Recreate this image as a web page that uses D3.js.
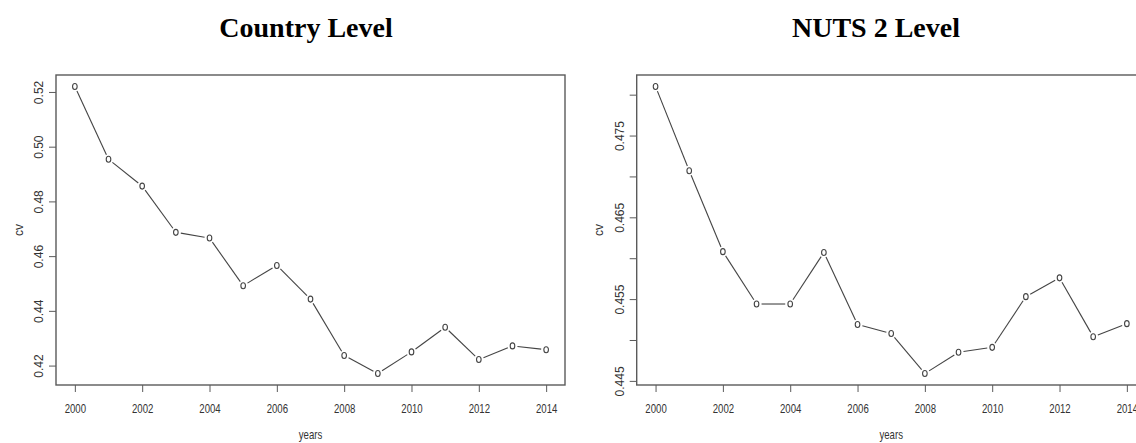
<!DOCTYPE html>
<html>
<head>
<meta charset="utf-8">
<script src="https://cdn.jsdelivr.net/npm/d3@7"></script>
<style>
  html, body { margin: 0; padding: 0; background: #fff; }
  svg { display: block; }
</style>
</head>
<body>
<svg id="chart" width="1136" height="443"></svg>
<script>
// Years on the horizontal axis
const years = [2000, 2001, 2002, 2003, 2004, 2005, 2006, 2007, 2008, 2009, 2010, 2011, 2012, 2013, 2014];

// Coefficient of variation, country level
const cvCountry = [0.522, 0.4954, 0.4856, 0.4687, 0.4666, 0.4492, 0.4566, 0.4443,
                   0.4237, 0.4171, 0.425, 0.434, 0.4222, 0.4272, 0.4258];

// Coefficient of variation, NUTS 2 level
const cvNuts2 = [0.481, 0.4707, 0.4608, 0.4544, 0.4544, 0.4607, 0.4519, 0.4508,
                 0.4459, 0.4485, 0.4491, 0.4553, 0.4576, 0.4504, 0.452];

// Tick values and labels
const xTicks = [2000, 2002, 2004, 2006, 2008, 2010, 2012, 2014];
const yTicksCountry = [0.42, 0.44, 0.46, 0.48, 0.50, 0.52];
const yLabelsCountry = ["0.42", "0.44", "0.46", "0.48", "0.50", "0.52"];
const yTicksNuts2 = [0.445, 0.450, 0.455, 0.460, 0.465, 0.470, 0.475, 0.480];
const yLabelsNuts2 = ["0.445", "", "0.455", "", "0.465", "", "0.475", ""];

const titles = ["Country Level", "NUTS 2 Level"];
const xTitle = "years";
const yTitle = "cv";

const svg = d3.select("#chart");
const axisColor = "#5a5a5a";
const textColor = "#333";
const lineColor = "#444";

// Pad a range by 4% on each side, like base graphics
function padded(ext) {
  const p = (ext[1] - ext[0]) * 0.04;
  return [ext[0] - p, ext[1] + p];
}

function panel(opts) {
  const { left, top, width, height, values, yTicks, yLabels, title, titleX, yTitleX } = opts;
  const g = svg.append("g");

  const x = d3.scaleLinear().domain(padded(d3.extent(years))).range([left, left + width]);
  const y = d3.scaleLinear().domain(padded(d3.extent(values))).range([top + height, top]);

  // plot box
  g.append("rect")
    .attr("x", left).attr("y", top).attr("width", width).attr("height", height)
    .attr("fill", "none").attr("stroke", axisColor).attr("stroke-width", 1.4);

  // x axis
  const xa = g.append("g").attr("transform", `translate(0,${top + height})`)
    .call(d3.axisBottom(x).tickValues(xTicks).tickSize(7).tickFormat(d3.format("d")));
  xa.select(".domain").remove();
  xa.selectAll(".tick line").attr("stroke", axisColor).attr("stroke-width", 1);
  xa.selectAll(".tick text")
    .attr("fill", textColor).attr("font-family", "Liberation Sans, Arial, sans-serif")
    .attr("font-size", 13).attr("y", 0).attr("dy", 0)
    .attr("transform", "translate(0,28) scale(0.74,1)");

  // y axis
  const ya = g.append("g").attr("transform", `translate(${left},0)`)
    .call(d3.axisLeft(y).tickValues(yTicks).tickSize(7)
      .tickFormat((d, i) => yLabels[i]));
  ya.select(".domain").remove();
  ya.selectAll(".tick line").attr("stroke", axisColor).attr("stroke-width", 1);
  ya.selectAll(".tick text")
    .attr("fill", textColor).attr("font-family", "Liberation Sans, Arial, sans-serif")
    .attr("font-size", 12).attr("x", 0).attr("dy", 0)
    .attr("text-anchor", "middle")
    .attr("transform", "translate(-13,0) rotate(-90)");

  // connecting segments, stopping short of each marker
  const pts = years.map((yr, i) => [x(yr), y(values[i])]);
  const gap = 5;
  for (let i = 0; i < pts.length - 1; i++) {
    const [x0, y0] = pts[i], [x1, y1] = pts[i + 1];
    const dx = x1 - x0, dy = y1 - y0, len = Math.hypot(dx, dy);
    if (len <= 2 * gap) continue;
    const ux = dx / len, uy = dy / len;
    g.append("line")
      .attr("x1", x0 + ux * gap).attr("y1", y0 + uy * gap)
      .attr("x2", x1 - ux * gap).attr("y2", y1 - uy * gap)
      .attr("stroke", lineColor).attr("stroke-width", 1.1);
  }

  // open circle markers
  g.selectAll("ellipse.pt").data(values).join("ellipse")
    .attr("class", "pt")
    .attr("cx", (d, i) => x(years[i]))
    .attr("cy", d => y(d))
    .attr("rx", 2.3).attr("ry", 3)
    .attr("fill", "none").attr("stroke", lineColor).attr("stroke-width", 1.1);

  // axis titles
  g.append("text")
    .attr("transform", `translate(${left + width * 0.5 - 0},439) scale(0.8,1)`)
    .attr("text-anchor", "middle")
    .attr("font-family", "Liberation Sans, Arial, sans-serif").attr("font-size", 12)
    .attr("fill", textColor).text(xTitle);

  g.append("text")
    .attr("transform", `translate(${yTitleX},${top + height / 2}) rotate(-90)`)
    .attr("text-anchor", "middle")
    .attr("font-family", "Liberation Sans, Arial, sans-serif").attr("font-size", 12)
    .attr("fill", textColor).text(yTitle);

  // panel title
  svg.append("text")
    .attr("x", titleX).attr("y", 37)
    .attr("text-anchor", "middle")
    .attr("font-family", "Liberation Serif, Times New Roman, serif")
    .attr("font-weight", "bold").attr("font-size", 28)
    .attr("fill", "#000").text(title);
}

panel({ left: 56, top: 75, width: 509, height: 310, values: cvCountry,
        yTicks: yTicksCountry, yLabels: yLabelsCountry, title: titles[0], titleX: 306, yTitleX: 23 });
panel({ left: 636.7, top: 75, width: 509, height: 310, values: cvNuts2,
        yTicks: yTicksNuts2, yLabels: yLabelsNuts2, title: titles[1], titleX: 876, yTitleX: 603 });
</script>
</body>
</html>
